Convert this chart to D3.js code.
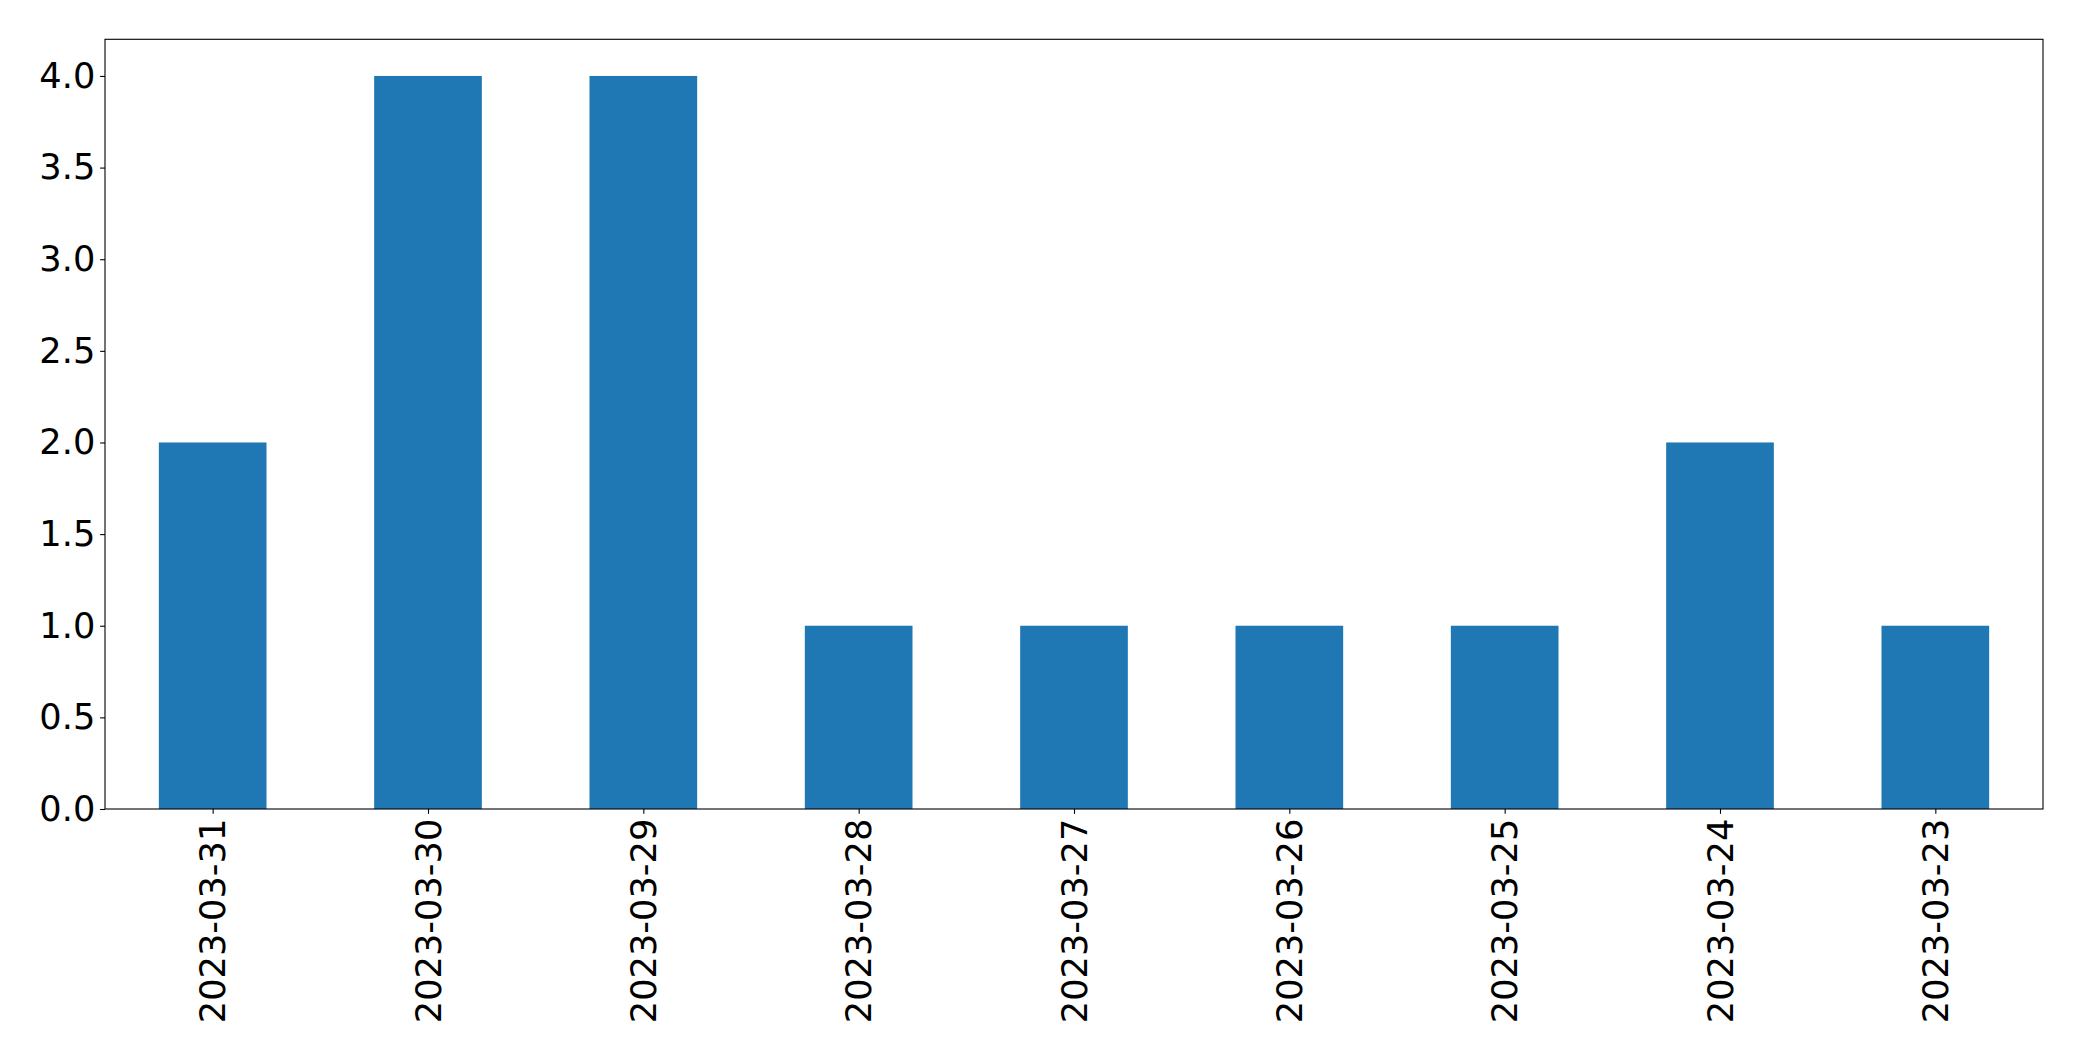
<!DOCTYPE html>
<html><head><meta charset="utf-8">
<script src="https://cdn.jsdelivr.net/npm/d3@7"></script>
<style>body{margin:0;background:#fff}svg{display:block}</style>
</head><body>
<script>
const categories = ["2023-03-31","2023-03-30","2023-03-29","2023-03-28","2023-03-27","2023-03-26","2023-03-25","2023-03-24","2023-03-23"];
const values = [2,4,4,1,1,1,1,2,1];
const yTicks = [0,0.5,1,1.5,2,2.5,3,3.5,4];

const W = 2082, H = 1061;
const m = {left:105, right:2043, top:39.3, bottom:809};
const svg = d3.select("body").append("svg").attr("width",W).attr("height",H);

const x = d3.scaleLinear().domain([-0.5, categories.length-0.5]).range([m.left, m.right]);
const y = d3.scaleLinear().domain([0,4.2]).range([m.bottom, m.top]);

svg.append("g").selectAll("rect").data(values).join("rect")
  .attr("x",(d,i)=>x(i-0.25)).attr("width",(d,i)=>x(i+0.25)-x(i-0.25))
  .attr("y",d=>y(d)).attr("height",d=>y(0)-y(d)).attr("fill","#1f77b4");

const font = "DejaVu Sans, sans-serif";
const fs = "35.2px";
const yAxis = svg.append("g").attr("transform",`translate(${m.left},0)`)
  .call(d3.axisLeft(y).tickValues(yTicks).tickFormat(d3.format(".1f")).tickSize(4.86).tickPadding(4.86));
yAxis.select(".domain").remove();
yAxis.selectAll("text").attr("font-family",font).attr("font-size",fs).attr("fill","#000");
yAxis.selectAll("line").attr("stroke","#000").attr("stroke-width",1.1);

const xAxis = svg.append("g").attr("transform",`translate(0,${m.bottom})`)
  .call(d3.axisBottom(x).tickValues(d3.range(categories.length)).tickFormat(i=>categories[i]).tickSize(4.86).tickPadding(4.86));
xAxis.select(".domain").remove();
xAxis.selectAll("line").attr("stroke","#000").attr("stroke-width",1.1);
xAxis.selectAll("text").attr("font-family",font).attr("font-size",fs).attr("fill","#000")
  .attr("text-anchor","end").attr("transform","rotate(-90)")
  .attr("x",-9.7).attr("y",0).attr("dy","0.35em");

svg.append("rect").attr("x",m.left).attr("y",m.top).attr("width",m.right-m.left).attr("height",m.bottom-m.top)
  .attr("fill","none").attr("stroke","#000").attr("stroke-width",1.1);
</script>
</body></html>
